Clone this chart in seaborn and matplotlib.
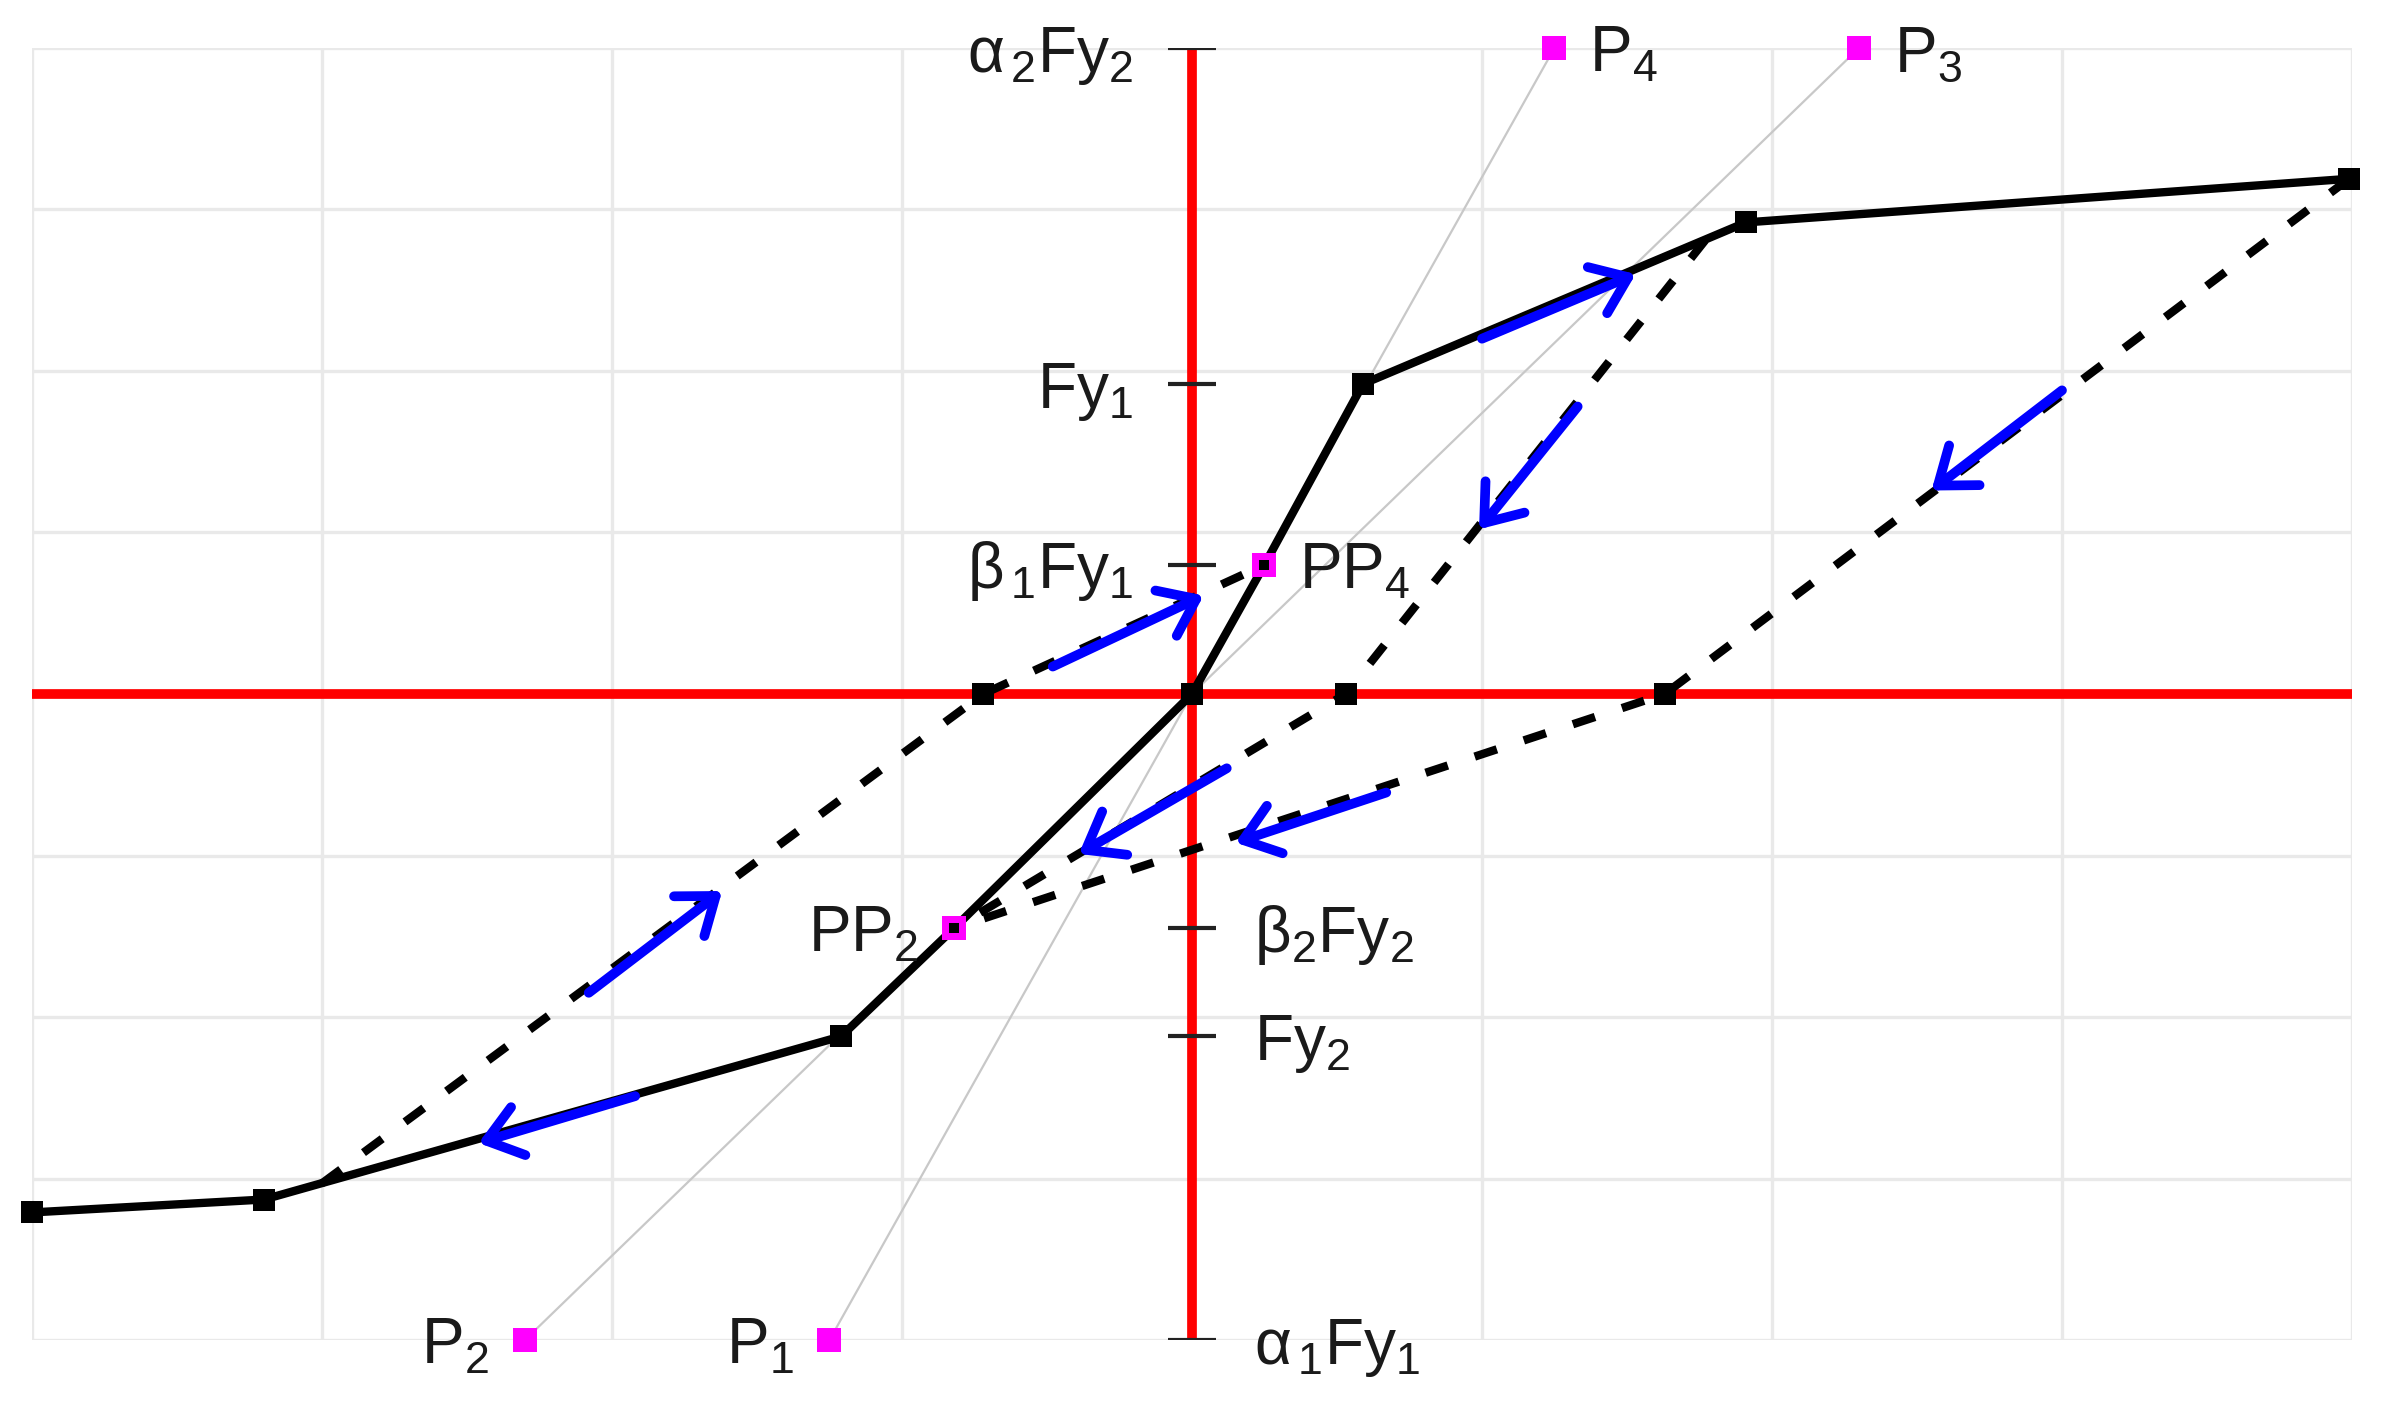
import matplotlib
matplotlib.use("Agg")
import numpy as np
import pandas as pd
import matplotlib.pyplot as plt
import seaborn as sns

# ---- data ----
# skeleton / backbone curve (solid)
backbone_x = [-4.0, -3.20, -1.21, -0.82, 0.0, 0.25, 0.59, 1.91, 3.99]
backbone_y = [-3.21, -3.13, -2.12, -1.45, 0.0, 0.80, 1.92, 2.92, 3.19]
backbone_marked = [0, 1, 2, 4, 6, 7, 8]

# unloading / reloading branches (dashed)
branch_a_x = [-3.0, -0.72, 0.25]
branch_a_y = [-3.03, 0.0, 0.80]
branch_b_x = [1.77, 0.53, -0.82]
branch_b_y = [2.81, 0.0, -1.45]
branch_c_x = [3.99, 1.63, -0.82]
branch_c_y = [3.19, 0.0, -1.45]

# pivot points
p_names = ["P_1", "P_2", "P_3", "P_4"]
p_x = [-1.25, -2.30, 2.30, 1.25]
p_y = [-4.0, -4.0, 4.0, 4.0]
pp_names = ["PP_2", "PP_4"]
pp_x = [-0.82, 0.25]
pp_y = [-1.45, 0.80]

# force levels on the vertical axis
ytick_vals = [4.0, 1.92, 0.80, -1.45, -2.12, -4.0]
ytick_labels = [r"$\alpha_{\,2}Fy_{2}$", r"$Fy_{1}$", r"$\beta_{\,1}Fy_{1}$",
                r"$\beta_{2}Fy_{2}$", r"$Fy_{2}$", r"$\alpha_{\,1}Fy_{1}$"]

# direction arrows (tail -> head)
arrow_tail_x = [-0.48, 1.00, 1.33, 3.00, 0.67, 0.12, -2.08, -1.92]
arrow_tail_y = [0.17, 2.20, 1.78, 1.88, -0.61, -0.46, -1.85, -2.49]
arrow_head_x = [0.04, 1.53, 0.99, 2.55, 0.15, -0.39, -1.62, -2.46]
arrow_head_y = [0.61, 2.60, 1.02, 1.26, -0.92, -0.99, -1.22, -2.78]

# ---- style ----
sns.set_theme(style="whitegrid", rc={"grid.color": "#e9e9e9", "grid.linewidth": 2.4})
plt.rcParams["font.family"] = ["Liberation Sans", "DejaVu Sans"]
plt.rcParams["mathtext.fontset"] = "custom"
plt.rcParams["mathtext.rm"] = "Liberation Sans"
plt.rcParams["mathtext.it"] = "Liberation Sans"
plt.rcParams["mathtext.default"] = "rm"

fig = plt.figure(figsize=(24, 14.07), dpi=100)
ax = fig.add_axes([0.0133, 0.0476, 0.9667, 0.9183])

# elastic reference lines through the pivot points
for i, j in [(0, 3), (1, 2)]:
    sns.lineplot(x=[p_x[i], p_x[j]], y=[p_y[i], p_y[j]], sort=False, estimator=None,
                 color="#c8c8c8", lw=1.6, ax=ax, zorder=1)

ax.axhline(0, color="#ff0000", lw=7, zorder=2)
ax.axvline(0, color="#ff0000", lw=7, zorder=2)

sns.lineplot(x=backbone_x, y=backbone_y, sort=False, estimator=None,
             color="black", lw=6, ax=ax, zorder=3)

for bx, by in [(branch_a_x, branch_a_y), (branch_b_x, branch_b_y), (branch_c_x, branch_c_y)]:
    sns.lineplot(x=bx, y=by, sort=False, estimator=None, color="black", lw=6, ax=ax, zorder=3)
    ax.lines[-1].set_dashes([2.8, 3.4])
    ax.lines[-1].set_dash_capstyle("butt")

mark_x = [backbone_x[k] for k in backbone_marked] + [branch_a_x[1], branch_b_x[1], branch_c_x[1]]
mark_y = [backbone_y[k] for k in backbone_marked] + [branch_a_y[1], branch_b_y[1], branch_c_y[1]]
sns.scatterplot(x=mark_x, y=mark_y, marker="s", s=260, color="black", linewidth=0,
                ax=ax, zorder=4, clip_on=False)

sns.scatterplot(x=p_x + pp_x, y=p_y + pp_y, marker="s", s=300, color="#ff00ff",
                linewidth=0, ax=ax, zorder=5, clip_on=False)
sns.scatterplot(x=pp_x, y=pp_y, marker="s", s=45, color="black", linewidth=0,
                ax=ax, zorder=6)

# short tick marks across the vertical axis
ax.hlines(ytick_vals, -0.082, 0.082, color="#222222", lw=3, zorder=4)

txt = dict(fontsize=46, color="#1a1a1a", textcoords="offset points", va="baseline")
for v, lab in zip(ytick_vals, ytick_labels):
    if v > 0:
        ax.annotate(lab, xy=(0, v), xytext=(-42, -17), ha="right", **txt)
    else:
        ax.annotate(lab, xy=(0, v), xytext=(45, -17), ha="left", **txt)

for name, x, y in zip(p_names + pp_names, p_x + pp_x, p_y + pp_y):
    lab = "$" + name + "$"
    if x < 0:
        ax.annotate(lab, xy=(x, y), xytext=(-26, -17), ha="right", **txt)
    else:
        ax.annotate(lab, xy=(x, y), xytext=(25, -17), ha="left", **txt)

for tx, ty, hx, hy in zip(arrow_tail_x, arrow_tail_y, arrow_head_x, arrow_head_y):
    ax.annotate("", xy=(hx, hy), xytext=(tx, ty), zorder=7,
                arrowprops=dict(arrowstyle="->,head_length=0.6,head_width=0.45",
                                color="#0000ff", lw=7, mutation_scale=40,
                                shrinkA=0, shrinkB=0))

ax.set_xlim(-4, 4)
ax.set_ylim(-4, 4)
ax.set_xticks(np.arange(-4, 5, 1))
ax.set_yticks(np.arange(-4, 5, 1))
ax.tick_params(labelbottom=False, labelleft=False, length=0)
ax.set_xlabel("")
ax.set_ylabel("")
for s in ax.spines.values():
    s.set_visible(False)

fig.savefig("out.png", dpi=100, facecolor="white")
